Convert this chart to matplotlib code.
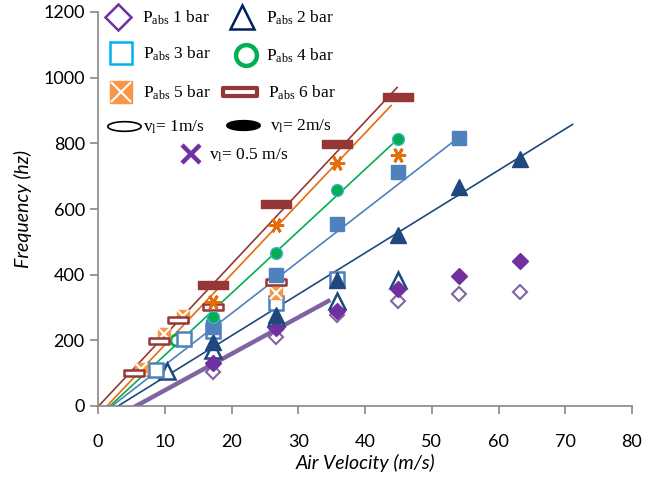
import numpy as np
import matplotlib
matplotlib.use("Agg")
import matplotlib.pyplot as plt
from matplotlib.path import Path

matplotlib.rcParams['mathtext.fontset'] = 'custom'
matplotlib.rcParams['mathtext.rm'] = 'Liberation Serif'
matplotlib.rcParams['mathtext.it'] = 'Liberation Serif:italic'

# ---- data ----
# filled markers: v_l = 2 m/s
v2_x = [17.3, 26.6, 35.8, 44.9, 54.1, 63.2]
f2_1bar = [132, 237, 290, 355, 397, 441]
f2_2bar = [196, 277, 384, 521, 666, 751]
f2_3bar = [242, 399, 554, 714, 817]
f2_4bar = [272, 465, 658, 812]
f2_5bar = [318, 551, 741, 764]
f2_6bar = [369, 614, 797, 942]

# hollow markers: v_l = 1 m/s
x1_1bar = [17.3, 26.6, 35.8, 44.9, 54.1, 63.2]
f1_1bar = [105, 211, 276, 321, 341, 347]
x1_2bar = [10.4, 17.3, 26.6, 35.8, 44.9]
f1_2bar = [108, 171, 268, 320, 384]
x1_3bar = [8.7, 12.9, 17.3, 26.6, 35.8]
f1_3bar = [110, 203, 228, 315, 387]
x1_4bar = [7.9, 11.7, 17.3, 26.6]
f1_4bar = [108, 201, 262, 369]
x1_5bar = [6.4, 9.9, 12.8, 26.6]
f1_5bar = [114, 218, 274, 343]
x1_6bar = [5.4, 9.2, 12.0, 17.3, 26.6]
f1_6bar = [99, 198, 262, 301, 379]

# linear trend lines (x-intercept, end x, end frequency) for 1..6 bar
trend_x0 = [5.7, 3.0, 2.1, 1.8, 1.35, 0.1]
trend_x1 = [34.8, 71.2, 54.1, 44.9, 44.0, 44.9]
trend_y1 = [323, 859, 819, 813, 917, 972]
trend_colors = ['#8064A2', '#1F497D', '#4F81BD', '#00B050', '#E46C0A', '#953735']
trend_lw = [3.2, 1.2, 1.2, 1.2, 1.2, 1.2]

# wide rectangle marker for the 6 bar series
rect = Path([(-1.9, -0.5), (1.9, -0.5), (1.9, 0.5), (-1.9, 0.5), (-1.9, -0.5)],
            [Path.MOVETO, Path.LINETO, Path.LINETO, Path.LINETO, Path.CLOSEPOLY])
t = np.linspace(0, 2 * np.pi, 60)
ellipse = Path(np.column_stack([2.6 * np.cos(t), 0.75 * np.sin(t)]))

fig = plt.figure(figsize=(6.45, 4.88), dpi=100)
ax = fig.add_axes([98 / 645, 82 / 488, 534 / 645, 394 / 488])

# trend lines
for x0, x1, y1, c, lw in zip(trend_x0, trend_x1, trend_y1, trend_colors, trend_lw):
    xs = np.array([0, x1])
    ys = (xs - x0) * y1 / (x1 - x0)
    ax.plot(xs, ys, color=c, lw=lw, zorder=2, solid_capstyle='butt')

# hollow (v_l = 1 m/s)
ax.plot(x1_4bar, f1_4bar, 'o', ms=8, mfc='white', mec='#00B050', mew=2, ls='none', zorder=2.5)
ax.plot(x1_1bar, f1_1bar, 'D', ms=7.5, mfc='white', mec='#8064A2', mew=1.5, ls='none', zorder=3)
ax.plot(x1_2bar, f1_2bar, '^', ms=11, mfc='white', mec='#1F497D', mew=1.8, ls='none', zorder=3)
ax.plot(x1_3bar, f1_3bar, 's', ms=10, mfc='white', mec='#4F81BD', mew=1.8, ls='none', zorder=3)
ax.plot(x1_5bar, f1_5bar, 's', ms=9, mfc='#F79646', mec='#F79646', ls='none', zorder=3)
ax.plot(x1_5bar, f1_5bar, 'x', ms=8, mec='white', mew=1.5, ls='none', zorder=3)
ax.plot(x1_6bar, f1_6bar, marker=rect, ms=15, mfc='white', mec='#953735', mew=1.8, ls='none', zorder=3)

# filled (v_l = 2 m/s)
ax.plot(v2_x, f2_1bar, 'D', ms=8, color='#7030A0', ls='none', zorder=4)
ax.plot(v2_x, f2_2bar, '^', ms=12, color='#1F497D', ls='none', zorder=4)
ax.plot(v2_x[:5], f2_3bar, 's', ms=10, color='#4F81BD', ls='none', zorder=4)
ax.plot(v2_x[:4], f2_4bar, 'o', ms=8.5, mfc='#00B050', mec='#4BACC6', mew=1, ls='none', zorder=4)
ax.plot(v2_x[:4], f2_5bar, marker=(6, 2, 90), ms=11, mec='#E46C0A', mew=2, ls='none', zorder=4)
ax.plot(v2_x[:4], f2_6bar, marker=rect, ms=21, color='#953735', ls='none', zorder=4)

# custom legend in the upper left
def axpt(px, py):
    return (px - 98) / 534, (406 - py) / 394

legend_text = dict(fontsize=12.5, family='Liberation Serif', va='center', ha='left',
                   transform=ax.transAxes)
leg_items = [
    (118, 17, dict(marker='D', ms=13, mfc='white', mec='#7030A0', mew=1.8), 142, 'P$_{\\mathrm{abs}}$ 1 bar'),
    (242, 17, dict(marker='^', ms=17, mfc='white', mec='#002060', mew=1.8), 266, 'P$_{\\mathrm{abs}}$ 2 bar'),
    (121, 53, dict(marker='s', ms=16, mfc='white', mec='#00B0F0', mew=1.8), 143, 'P$_{\\mathrm{abs}}$ 3 bar'),
    (246, 55, dict(marker='o', ms=15, mfc='white', mec='#00B050', mew=3.2), 266, 'P$_{\\mathrm{abs}}$ 4 bar'),
    (121, 92, dict(marker='s', ms=16, mfc='#F79646', mec='#F79646', mew=1), 143, 'P$_{\\mathrm{abs}}$ 5 bar'),
    (240, 92, dict(marker=rect, ms=24, mfc='white', mec='#953735', mew=3), 268, 'P$_{\\mathrm{abs}}$ 6 bar'),
    (124, 126, dict(marker=ellipse, ms=24, mfc='white', mec='black', mew=1.2), 143, 'v$_{\\mathrm{l}}$= 1m/s'),
    (243, 125, dict(marker=ellipse, ms=24, mfc='black', mec='black', mew=1.2), 270, 'v$_{\\mathrm{l}}$= 2m/s'),
    (191, 154, dict(marker='x', ms=13, mec='#7030A0', mew=3.2), 209, 'v$_{\\mathrm{l}}$= 0.5 m/s'),
]
for mx, my, style, tx, label in leg_items:
    ax.plot(*axpt(mx, my), transform=ax.transAxes, ls='none', clip_on=False, zorder=5, **style)
    ax.text(*axpt(tx, my + 1), label, **legend_text)
# white cross on the 5 bar legend square
ax.plot(*axpt(121, 92), transform=ax.transAxes, marker='x', ms=14, mec='white', mew=1.5,
        ls='none', zorder=6)

ax.set_xlim(0, 80)
ax.set_ylim(0, 1200)
ax.set_xticks(range(0, 81, 10))
ax.set_yticks(range(0, 1201, 200))
for side in ['top', 'right']:
    ax.spines[side].set_visible(False)
for side in ['left', 'bottom']:
    ax.spines[side].set_color('#888888')
    ax.spines[side].set_linewidth(1.2)
ax.tick_params(axis='both', color='#888888', width=1.2, length=6, labelsize=13)
ax.tick_params(axis='x', pad=14)
for lab in ax.get_xticklabels() + ax.get_yticklabels():
    lab.set_family('Lato')

ax.set_xlabel('Air Velocity (m/s)', fontsize=14, style='italic', family='Lato', labelpad=3)
ax.set_ylabel('Frequency (hz)', fontsize=14, style='italic', family='Lato', labelpad=8)

fig.savefig('out.png', dpi=100, facecolor='white')
